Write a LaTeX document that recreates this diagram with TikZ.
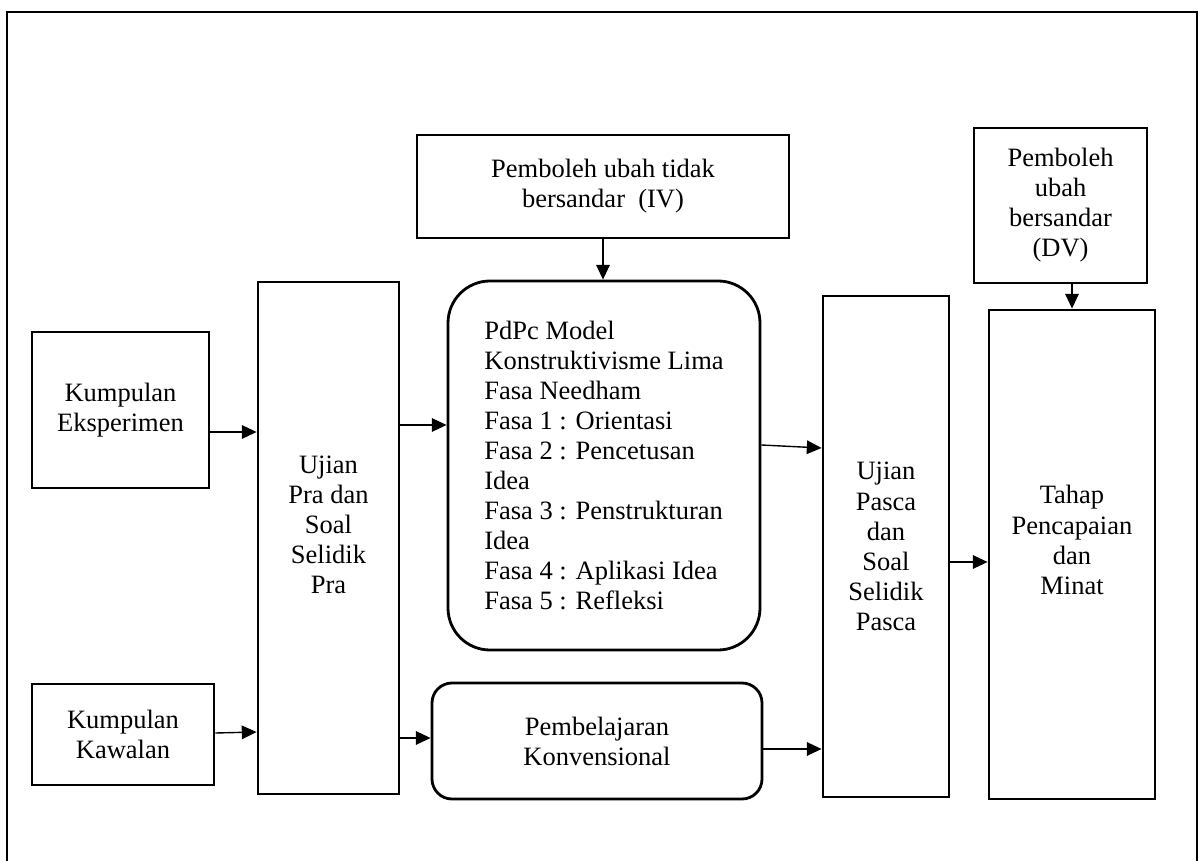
\documentclass[tikz,border=0pt]{standalone}
\usepackage{fontspec}
\setmainfont{Liberation Serif}
\usetikzlibrary{arrows.meta}

\begin{document}
\begin{tikzpicture}[x=0.25mm, y=-0.25mm, line width=0.7mm]
                \tikzstyle{every node}=[font=\fontsize{18.85}{21.4}\selectfont, inner sep=0pt]
                \tikzstyle{kotak}=[draw, align=center]
                \tikzstyle{bulat}=[draw, rounded corners=5mm]
                \tikzstyle{anak}=[-{Triangle[length=3.7mm,width=3.4mm]}, line width=0.35mm]
                \useasboundingbox (0,0) rectangle (1198,861);
                % bingkai luar
                \draw[line width=0.5mm] (7,861) -- (7,12) -- (1197,12) -- (1197,861);

                \node[kotak, minimum width=93mm, minimum height=25.75mm] (iv) at (603,186.5) {Pemboleh ubah tidak\\bersandar\ \ (IV)};
                \node[kotak, minimum width=43.25mm, minimum height=38.75mm] (dv) at (1060.5,205.5) {Pemboleh\\ubah\\bersandar\\(DV)};
                \node[kotak, minimum width=44.25mm, minimum height=39mm] (eksp) at (120.5,410) {Kumpulan\\Eksperimen};
                \node[kotak, minimum width=45.5mm, minimum height=25.25mm] (kawal) at (123,734.5) {Kumpulan\\Kawalan};
                \node[kotak, minimum width=35.25mm, minimum height=128mm] (pra) at (328.5,538) {};
                \node[align=center] (pratxt) at (328.5,525) {Ujian\\Pra dan\\Soal\\Selidik\\Pra};
                \node[bulat, rounded corners=10.5mm, align=left, minimum width=78mm, minimum height=92.25mm] (pdpc) at (604,465.5)
                    {PdPc Model\\Konstruktivisme Lima\\Fasa Needham\\Fasa 1 : Orientasi\\Fasa 2 : Pencetusan\\Idea\\Fasa 3 : Penstrukturan\\Idea\\Fasa 4 : Aplikasi Idea\\Fasa 5 : Refleksi};
                \node[bulat, align=center, minimum width=82.5mm, minimum height=29mm] (konv) at (597,741) {Pembelajaran\\Konvensional};
                \node[kotak, minimum width=31.5mm, minimum height=125.25mm] (pasca) at (886,546.5) {Ujian\\Pasca\\dan\\Soal\\Selidik\\Pasca};
                \node[kotak, minimum width=41.5mm, minimum height=122.25mm] (tahap) at (1072,554.5) {};
                \node[align=center] (tahaptxt) at (1072,540) {Tahap\\Pencapaian\\dan\\Minat};

                \draw[anak] (iv.south) -- (iv.south |- pdpc.north);
                \draw[anak] (dv.south -| tahap.north) -- (tahap.north);
                \draw[anak] (eksp.east |- 0,432) -- (pra.west |- 0,432);
                \draw[anak] (kawal.east |- 0,733) -- (pra.west |- 0,732);
                \draw[anak] (pra.east |- 0,425) -- (pdpc.west |- 0,425);
                \draw[anak] (pra.east |- 0,738) -- (konv.west |- 0,738);
                \draw[anak] (pdpc.east |- 0,445) -- (pasca.west |- 0,448);
                \draw[anak] (konv.east |- 0,749) -- (pasca.west |- 0,749);
                \draw[anak] (pasca.east |- 0,562) -- (tahap.west |- 0,562);
\end{tikzpicture}
\end{document}
